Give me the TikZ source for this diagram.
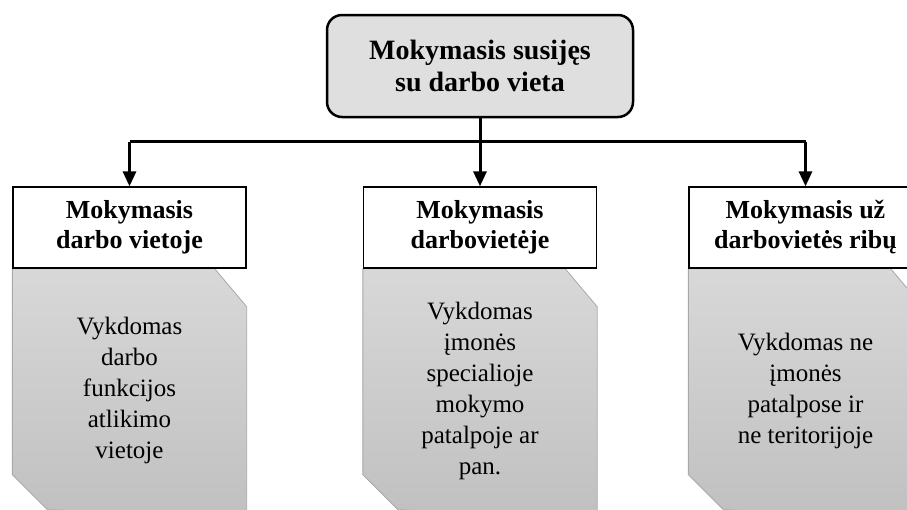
\documentclass[tikz,border=0pt]{standalone}
\usepackage{fontspec}
\setmainfont{Liberation Serif}
\usetikzlibrary{arrows.meta,backgrounds}
\definecolor{topfill}{HTML}{DFDFDF}
\definecolor{lowtop}{HTML}{D8D8D8}
\definecolor{lowbot}{HTML}{C0C0C0}
\definecolor{lowline}{HTML}{A8A8A8}
\tikzset{
  topbox/.style={draw, line width=2.5pt, rounded corners=15pt, fill=topfill,
    minimum width=306pt, minimum height=102pt, align=center, inner sep=0pt,
    font=\bfseries\fontsize{28}{32}\selectfont},
  headbox/.style={draw, line width=1.3pt, fill=white, minimum width=233pt,
    minimum height=81pt, align=center, inner sep=0pt,
    font=\bfseries\fontsize{26}{30}\selectfont},
  bodytext/.style={align=center, inner sep=0pt, font=\fontsize{25}{31}\selectfont},
  lowshape/.style={draw=lowline, line width=0.8pt, top color=lowtop, bottom color=lowbot},
  conn/.style={line width=3pt},
  arr/.style={line width=3pt, -{Triangle[length=15pt,width=13pt]}},
}
\begin{document}
\begin{tikzpicture}[x=1pt,y=-1pt]
\useasboundingbox (0,0) rectangle (907,509);
\clip (0,0) rectangle (907,509);
\node[topbox] (top) at (480,66) {Mokymasis susijęs\\su darbo vieta};
\node[headbox] (h1) at (129.5,227.5) {Mokymasis\\darbo vietoje};
\node[headbox] (h2) at (480,227.5) {Mokymasis\\darbovietėje};
\node[headbox] (h3) at (805.5,227.5) {Mokymasis už\\darbovietės ribų};
\begin{scope}[on background layer]
  \clip (0,0) rectangle (907,509);
  \foreach \n in {h1,h2,h3} {
    \path[lowshape] (\n.south west) -- ([xshift=-32pt]\n.south east)
      -- ([yshift=-38pt]\n.south east) -- ([yshift=-250pt]\n.south east)
      -- ([xshift=35pt,yshift=-241pt]\n.south west)
      -- ([yshift=-206pt]\n.south west) -- cycle;
  }
\end{scope}
\node[bodytext] (b1) at ([yshift=-122pt]h1.south) {Vykdomas\\darbo\\funkcijos\\atlikimo\\vietoje};
\node[bodytext] (b2) at ([yshift=-122pt]h2.south) {Vykdomas\\įmonės\\specialioje\\mokymo\\patalpoje ar\\pan.};
\node[bodytext] (b3) at ([yshift=-122pt]h3.south) {Vykdomas ne\\įmonės\\patalpose ir\\ne teritorijoje};
\coordinate (j) at (480,141.5);
\draw[conn] (top.south) -- (j);
\draw[conn] (h1.north |- j) -- (h3.north |- j);
\draw[arr] (j) -- (h2.north);
\draw[arr] (h1.north |- j) -- (h1.north);
\draw[arr] (h3.north |- j) -- (h3.north);
\end{tikzpicture}
\end{document}
